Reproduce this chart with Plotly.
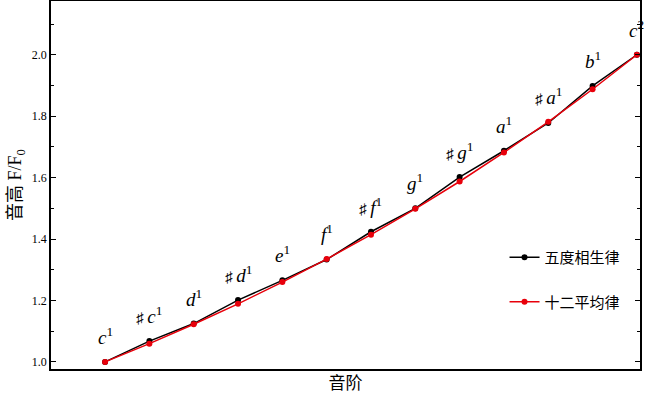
import plotly.graph_objects as go

notes = ["c", "♯c", "d", "♯d", "e", "f", "♯f", "g", "♯g", "a", "♯a", "b", "c"]
octave = ["1", "1", "1", "1", "1", "1", "1", "1", "1", "1", "1", "1", "2"]
pythagorean = [1.0, 1.0679, 1.125, 1.2014, 1.2656, 1.3333, 1.4238, 1.5, 1.6018, 1.6875, 1.7778, 1.8984, 2.0]
equal_temp = [1.0, 1.0595, 1.1225, 1.1892, 1.2599, 1.3348, 1.4142, 1.4983, 1.5874, 1.6818, 1.7818, 1.8877, 2.0]
series_names = ["五度相生律", "十二平均律"]
y_ticks = [1.0, 1.2, 1.4, 1.6, 1.8, 2.0]

x = list(range(len(notes)))

fig = go.Figure()
fig.add_trace(go.Scatter(x=x, y=pythagorean, mode="lines+markers", name=series_names[0],
                         line=dict(color="black", width=1.5), marker=dict(color="black", size=6),
                         legendgroup="a"))
fig.add_trace(go.Scatter(x=x, y=equal_temp, mode="lines+markers", name=series_names[1],
                         line=dict(color="#e8000b", width=1.5), marker=dict(color="#e8000b", size=6),
                         legendgroup="b"))

for i, (n, o) in enumerate(zip(notes, octave)):
    if n.startswith("♯"):
        txt = "<span style='font-size:15px'>♯ </span><i>" + n[1:] + "</i><sup>" + o + "</sup>"
    else:
        txt = "<i>" + n + "</i><sup>" + o + "</sup>"
    fig.add_annotation(x=i, y=max(pythagorean[i], equal_temp[i]), text=txt, showarrow=False,
                       yshift=26, font=dict(family="Liberation Serif", size=19, color="black"))

fig.update_layout(
    width=650, height=401,
    margin=dict(l=51, r=10, t=1, b=32, autoexpand=False),
    plot_bgcolor="white", paper_bgcolor="white",
    font=dict(family="Liberation Serif", color="black"),
    showlegend=True,
    legend=dict(x=0.77, y=0.348, xanchor="left", yanchor="top", traceorder="grouped",
                tracegroupgap=22, bgcolor="rgba(0,0,0,0)",
                font=dict(family="Noto Sans CJK SC", size=15, color="black")),
    xaxis=dict(range=[-1.22, 12.07], showticklabels=False, ticks="", showgrid=False, zeroline=False,
               showline=True, linecolor="black", linewidth=1.5, mirror=True, automargin=False,
               title=dict(text="音阶", font=dict(family="Noto Sans CJK SC", size=17), standoff=7)),
    yaxis=dict(range=[0.977, 2.175], tickvals=y_ticks, ticktext=[f"{v:.1f}" for v in y_ticks],
               ticks="inside", ticklen=5, tickwidth=1, tickcolor="black", automargin=False,
               minor=dict(dtick=0.1, ticks="inside", ticklen=3, tickcolor="black", showgrid=False),
               showgrid=False, zeroline=False, showline=True, linecolor="black", linewidth=1.5, mirror="allticks",
               tickfont=dict(family="Liberation Serif", size=12),
               title=dict(text="<span style='font-family:Noto Sans CJK SC'>音高</span> F/F<sub>0</sub>",
                          font=dict(family="Liberation Serif", size=18), standoff=8)),
)

fig.write_html("out.html", config={"displayModeBar": False},
               post_script="document.body.style.margin='0';")
